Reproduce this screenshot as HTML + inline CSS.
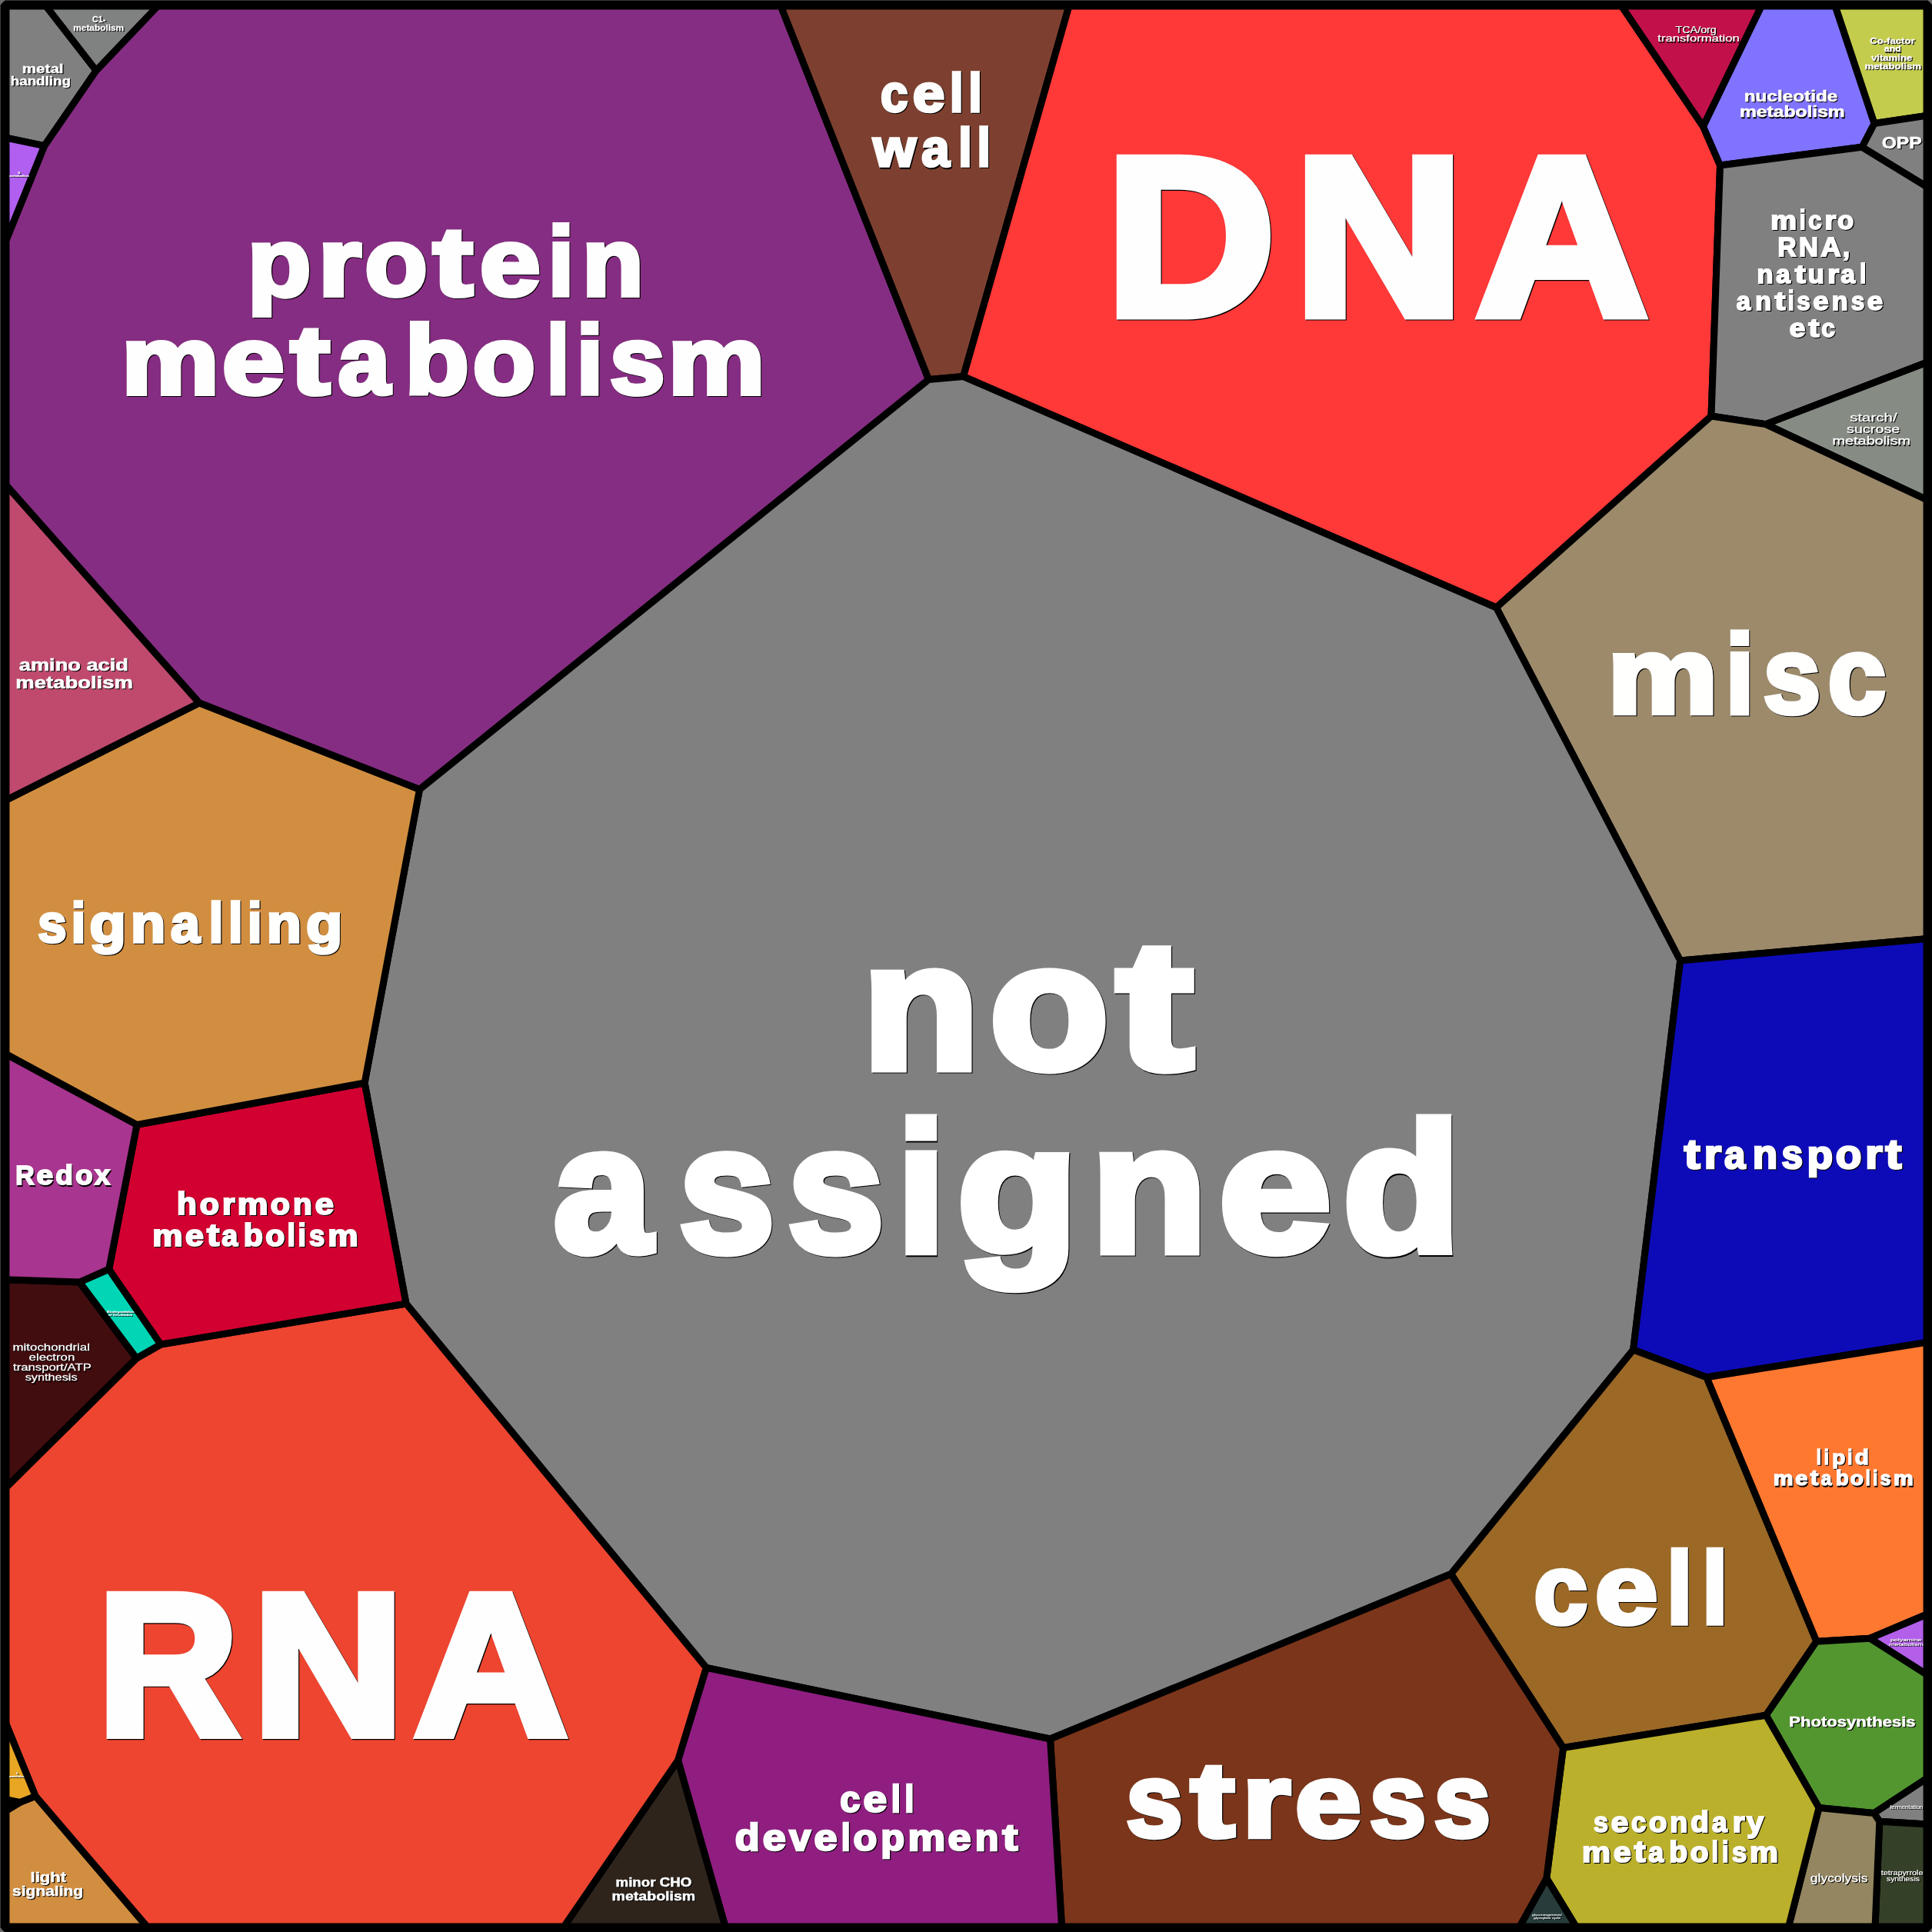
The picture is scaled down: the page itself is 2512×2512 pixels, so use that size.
<!DOCTYPE html>
<html><head><meta charset="utf-8"><title>treemap</title><style>html,body{margin:0;padding:0;background:#6c6c6c}svg{display:block}text{font-family:"Liberation Sans",sans-serif;}</style></head><body>
<svg width="2512" height="2512" viewBox="0 0 2512 2512">
<rect x="0" y="0" width="2512" height="2512" fill="#6c6c6c"/>
<g stroke="#000" stroke-width="9" stroke-linejoin="round">
<polygon fill="#808080" points="6.5,6.5 58.8,6.5 125.1,91.8 57.8,189.6 6.5,178.8"/>
<polygon fill="#808281" points="58.8,6.5 206.5,6.5 125.1,91.8"/>
<polygon fill="#b05ff0" points="6.5,178.8 57.8,189.6 6.5,316.3"/>
<polygon fill="#852d82" points="206.5,6.5 1014.7,6.5 1207.5,493.5 545.5,1026.5 259.0,914.0 6.5,629.3 6.5,316.3 57.8,189.6 125.1,91.8"/>
<polygon fill="#7d4030" points="1014.7,6.5 1390.3,6.5 1252.6,489.6 1207.5,493.5"/>
<polygon fill="#ff3838" points="1390.3,6.5 2107.5,6.5 2214.5,164.5 2236.5,215.0 2225.0,541.0 1945.5,790.0 1252.6,489.6"/>
<polygon fill="#c2114a" points="2107.5,6.5 2290.9,6.5 2214.5,164.5"/>
<polygon fill="#8073ff" points="2290.9,6.5 2385.8,6.5 2437.1,160.5 2421.1,191.3 2236.5,215.0 2214.5,164.5"/>
<polygon fill="#c4cc4d" points="2385.8,6.5 2506.5,6.5 2506.5,150.1 2437.1,160.5"/>
<polygon fill="#808080" points="2437.1,160.5 2506.5,150.1 2506.5,243.6 2421.1,191.3"/>
<polygon fill="#808080" points="2236.5,215.0 2421.1,191.3 2506.5,243.6 2506.5,470.7 2295.8,551.6 2225.0,541.0"/>
<polygon fill="#868c84" points="2295.8,551.6 2506.5,470.7 2506.5,650.3"/>
<polygon fill="#9c8a6b" points="2225.0,541.0 2295.8,551.6 2506.5,650.3 2506.5,1220.5 2184.7,1249.0 1945.5,790.0"/>
<polygon fill="#808080" points="1207.5,493.5 1252.6,489.6 1945.5,790.0 2184.7,1249.0 2123.6,1755.0 1886.6,2046.5 1365.5,2261.0 918.3,2168.4 528.0,1695.0 474.1,1408.0 545.5,1026.5"/>
<polygon fill="#0d0bb8" points="2184.7,1249.0 2506.5,1220.5 2506.5,1745.1 2218.8,1790.7 2123.6,1755.0"/>
<polygon fill="#ff7830" points="2218.8,1790.7 2506.5,1745.1 2506.5,2098.5 2431.3,2130.2 2361.8,2134.3"/>
<polygon fill="#9b6826" points="2123.6,1755.0 2218.8,1790.7 2361.8,2134.3 2296.2,2230.2 2032.5,2272.5 1886.6,2046.5"/>
<polygon fill="#b35fea" points="2431.3,2130.2 2506.5,2098.5 2506.5,2178.1"/>
<polygon fill="#539630" points="2361.8,2134.3 2431.3,2130.2 2506.5,2178.1 2506.5,2311.6 2436.6,2357.6 2365.0,2350.4 2296.2,2230.2"/>
<polygon fill="#808080" points="2436.6,2357.6 2506.5,2311.6 2506.5,2371.9 2443.8,2368.3"/>
<polygon fill="#354028" points="2443.8,2368.3 2506.5,2371.9 2506.5,2506.5 2438.0,2506.5"/>
<polygon fill="#938660" points="2365.0,2350.4 2436.6,2357.6 2443.8,2368.3 2438.0,2506.5 2325.2,2506.5"/>
<polygon fill="#bab02b" points="2032.5,2272.5 2296.2,2230.2 2365.0,2350.4 2325.2,2506.5 2050.1,2506.5 2010.8,2442.2"/>
<polygon fill="#283c3c" points="2010.8,2442.2 2050.1,2506.5 1975.0,2506.5"/>
<polygon fill="#7b351b" points="1886.6,2046.5 2032.5,2272.5 2010.8,2442.2 1975.0,2506.5 1380.6,2506.5 1365.5,2261.0"/>
<polygon fill="#8f1e80" points="1365.5,2261.0 1380.6,2506.5 943.4,2506.5 881.5,2288.7 918.3,2168.4"/>
<polygon fill="#2e241c" points="881.5,2288.7 943.4,2506.5 732.2,2506.5"/>
<polygon fill="#ed4530" points="528.0,1695.0 918.3,2168.4 881.5,2288.7 732.2,2506.5 192.3,2506.5 46.1,2335.4 6.5,2238.0 6.5,1935.3 177.5,1766.0 209.0,1748.0"/>
<polygon fill="#d18e40" points="46.1,2335.4 192.3,2506.5 6.5,2506.5 6.5,2355.2 26.0,2343.4"/>
<polygon fill="#000000" points="6.5,2339.5 26.0,2343.4 6.5,2355.2"/>
<polygon fill="#e8a623" points="6.5,2238.0 46.1,2335.4 26.0,2343.4 6.5,2339.5"/>
<polygon fill="#420d0f" points="6.5,1663.8 103.4,1667.0 177.5,1766.0 6.5,1935.3"/>
<polygon fill="#00d6b5" points="141.7,1650.2 209.0,1748.0 177.5,1766.0 103.4,1667.0"/>
<polygon fill="#d10030" points="178.0,1462.4 474.1,1408.0 528.0,1695.0 209.0,1748.0 141.7,1650.2"/>
<polygon fill="#a8358f" points="6.5,1369.8 178.0,1462.4 141.7,1650.2 103.4,1667.0 6.5,1663.8"/>
<polygon fill="#d18e40" points="6.5,1041.0 259.0,914.0 545.5,1026.5 474.1,1408.0 178.0,1462.4 6.5,1369.8"/>
<polygon fill="#bf4a6e" points="6.5,629.3 259.0,914.0 6.5,1041.0"/>
</g>
<rect x="6.5" y="6.5" width="2500" height="2500" fill="none" stroke="#000" stroke-width="11.9" stroke-linejoin="bevel"/>
<g opacity="0.999" font-weight="bold" stroke-linejoin="miter"><g fill="#000" stroke="#000"><text transform="translate(1122.89,1390.32) scale(0.9764,0.9189)" font-size="253.50" stroke-width="11.81">n</text><text transform="translate(1288.16,1390.32) scale(0.9979,0.9189)" font-size="253.50" stroke-width="11.81">o</text><text transform="translate(1453.16,1390.24) scale(1.1750,0.9333)" font-size="253.50" stroke-width="11.81">t</text><text transform="translate(721.26,1627.72) scale(0.9012,0.9189)" font-size="253.50" stroke-width="11.81">a</text><text transform="translate(884.10,1627.72) scale(0.8820,0.9189)" font-size="253.50" stroke-width="11.81">s</text><text transform="translate(1025.39,1627.72) scale(0.8872,0.9189)" font-size="253.50" stroke-width="11.81">s</text><text transform="translate(1168.12,1627.60) scale(0.8764,0.9396)" font-size="253.50" stroke-width="11.81">i</text><text transform="translate(1245.70,1627.72) scale(1.0121,0.9189)" font-size="253.50" stroke-width="11.81">g</text><text transform="translate(1420.29,1627.72) scale(0.9668,0.9189)" font-size="253.50" stroke-width="11.81">n</text><text transform="translate(1585.94,1627.72) scale(1.0368,0.9189)" font-size="253.50" stroke-width="11.81">e</text><text transform="translate(1747.31,1627.60) scale(0.9850,0.9396)" font-size="253.50" stroke-width="11.81">d</text><text transform="translate(323.19,384.78) scale(0.9991,0.9167)" font-size="134.90" stroke-width="6.47">p</text><text transform="translate(415.09,384.78) scale(1.0612,0.9167)" font-size="134.90" stroke-width="6.47">r</text><text transform="translate(475.71,384.78) scale(0.9840,0.9167)" font-size="134.90" stroke-width="6.47">o</text><text transform="translate(564.41,384.74) scale(1.1461,0.9315)" font-size="134.90" stroke-width="6.47">t</text><text transform="translate(625.10,384.78) scale(1.0487,0.9167)" font-size="134.90" stroke-width="6.47">e</text><text transform="translate(714.08,384.72) scale(0.8795,0.9379)" font-size="134.90" stroke-width="6.47">i</text><text transform="translate(758.46,384.78) scale(0.9623,0.9167)" font-size="134.90" stroke-width="6.47">n</text><text transform="translate(159.32,513.38) scale(1.0555,0.9167)" font-size="134.90" stroke-width="6.47">m</text><text transform="translate(290.05,513.38) scale(1.0749,0.9167)" font-size="134.90" stroke-width="6.47">e</text><text transform="translate(378.99,513.34) scale(1.1381,0.9315)" font-size="134.90" stroke-width="6.47">t</text><text transform="translate(440.86,513.38) scale(0.8972,0.9167)" font-size="134.90" stroke-width="6.47">a</text><text transform="translate(527.85,513.32) scale(1.0083,0.9379)" font-size="134.90" stroke-width="6.47">b</text><text transform="translate(615.81,513.38) scale(0.9853,0.9167)" font-size="134.90" stroke-width="6.47">o</text><text transform="translate(712.07,513.32) scale(0.7774,0.9379)" font-size="134.90" stroke-width="6.47">l</text><text transform="translate(750.88,513.32) scale(0.9148,0.9379)" font-size="134.90" stroke-width="6.47">i</text><text transform="translate(794.12,513.38) scale(0.9521,0.9167)" font-size="134.90" stroke-width="6.47">s</text><text transform="translate(869.86,513.38) scale(1.0482,0.9167)" font-size="134.90" stroke-width="6.47">m</text><text transform="translate(1439.60,409.78) scale(0.9728,0.9370)" font-size="312.11" stroke-width="14.44">D</text><text transform="translate(1684.72,409.78) scale(0.9712,0.9370)" font-size="312.11" stroke-width="14.44">N</text><text transform="translate(1920.96,409.78) scale(0.9847,0.9370)" font-size="312.11" stroke-width="14.44">A</text><text transform="translate(128.76,2256.08) scale(0.9015,0.9368)" font-size="279.31" stroke-width="12.97">R</text><text transform="translate(330.22,2256.08) scale(0.9692,0.9368)" font-size="279.31" stroke-width="12.97">N</text><text transform="translate(540.23,2256.08) scale(0.9830,0.9368)" font-size="279.31" stroke-width="12.97">A</text><text transform="translate(2091.39,928.10) scale(1.0499,0.9173)" font-size="153.41" stroke-width="7.30">m</text><text transform="translate(2244.86,928.02) scale(0.8612,0.9384)" font-size="153.41" stroke-width="7.30">i</text><text transform="translate(2294.00,928.10) scale(0.8708,0.9173)" font-size="153.41" stroke-width="7.30">s</text><text transform="translate(2377.90,928.10) scale(0.8795,0.9173)" font-size="153.41" stroke-width="7.30">c</text><text transform="translate(2190.78,1519.77) scale(1.0942,0.9261)" font-size="57.13" stroke-width="2.97">t</text><text transform="translate(2216.80,1519.80) scale(1.0081,0.9103)" font-size="57.13" stroke-width="2.97">r</text><text transform="translate(2243.16,1519.80) scale(0.8589,0.9103)" font-size="57.13" stroke-width="2.97">a</text><text transform="translate(2280.02,1519.80) scale(0.9260,0.9103)" font-size="57.13" stroke-width="2.97">n</text><text transform="translate(2317.71,1519.80) scale(0.8669,0.9103)" font-size="57.13" stroke-width="2.97">s</text><text transform="translate(2350.57,1519.80) scale(0.9618,0.9103)" font-size="57.13" stroke-width="2.97">p</text><text transform="translate(2387.89,1519.80) scale(0.9621,0.9103)" font-size="57.13" stroke-width="2.97">o</text><text transform="translate(2426.30,1519.80) scale(1.0081,0.9103)" font-size="57.13" stroke-width="2.97">r</text><text transform="translate(2452.73,1519.77) scale(1.0942,0.9261)" font-size="57.13" stroke-width="2.97">t</text><text transform="translate(50.50,1226.38) scale(0.8690,0.9132)" font-size="77.23" stroke-width="3.88">s</text><text transform="translate(93.82,1226.34) scale(0.8614,0.9353)" font-size="77.23" stroke-width="3.88">i</text><text transform="translate(117.65,1226.38) scale(1.0024,0.9132)" font-size="77.23" stroke-width="3.88">g</text><text transform="translate(171.06,1226.38) scale(0.9582,0.9132)" font-size="77.23" stroke-width="3.88">n</text><text transform="translate(223.07,1226.38) scale(0.8874,0.9132)" font-size="77.23" stroke-width="3.88">a</text><text transform="translate(272.91,1226.34) scale(0.8614,0.9353)" font-size="77.23" stroke-width="3.88">l</text><text transform="translate(298.03,1226.34) scale(0.8614,0.9353)" font-size="77.23" stroke-width="3.88">l</text><text transform="translate(323.14,1226.34) scale(0.8614,0.9353)" font-size="77.23" stroke-width="3.88">i</text><text transform="translate(347.96,1226.38) scale(0.9582,0.9132)" font-size="77.23" stroke-width="3.88">n</text><text transform="translate(399.11,1226.38) scale(1.0024,0.9132)" font-size="77.23" stroke-width="3.88">g</text><text transform="translate(1465.51,2388.93) scale(0.8981,0.9171)" font-size="147.06" stroke-width="7.02">s</text><text transform="translate(1549.42,2388.88) scale(1.1614,0.9318)" font-size="147.06" stroke-width="7.02">t</text><text transform="translate(1616.64,2388.93) scale(1.0902,0.9171)" font-size="147.06" stroke-width="7.02">r</text><text transform="translate(1685.07,2388.93) scale(1.0491,0.9171)" font-size="147.06" stroke-width="7.02">e</text><text transform="translate(1781.86,2388.93) scale(0.8981,0.9171)" font-size="147.06" stroke-width="7.02">s</text><text transform="translate(1865.75,2388.93) scale(0.8981,0.9171)" font-size="147.06" stroke-width="7.02">s</text><text transform="translate(1995.69,2111.87) scale(0.8908,0.9169)" font-size="140.29" stroke-width="6.71">c</text><text transform="translate(2075.11,2111.87) scale(1.0434,0.9169)" font-size="140.29" stroke-width="6.71">e</text><text transform="translate(2168.37,2111.80) scale(0.8484,0.9381)" font-size="140.29" stroke-width="6.71">l</text><text transform="translate(2214.45,2111.80) scale(0.8484,0.9381)" font-size="140.29" stroke-width="6.71">l</text><text transform="translate(1146.06,146.42) scale(0.8499,0.9130)" font-size="75.12" stroke-width="3.78">c</text><text transform="translate(1187.99,146.42) scale(0.9955,0.9130)" font-size="75.12" stroke-width="3.78">e</text><text transform="translate(1236.21,146.38) scale(0.8375,0.9351)" font-size="75.12" stroke-width="3.78">l</text><text transform="translate(1260.47,146.38) scale(0.8375,0.9351)" font-size="75.12" stroke-width="3.78">l</text><text transform="translate(1136.41,217.52) scale(0.9534,0.9130)" font-size="75.12" stroke-width="3.78">w</text><text transform="translate(1199.50,217.52) scale(0.8739,0.9130)" font-size="75.12" stroke-width="3.78">a</text><text transform="translate(1247.40,217.48) scale(0.8333,0.9351)" font-size="75.12" stroke-width="3.78">l</text><text transform="translate(1271.54,217.48) scale(0.8333,0.9351)" font-size="75.12" stroke-width="3.78">l</text><text transform="translate(2179.69,43.83) scale(1.1279,0.9635)" font-size="12.70" stroke-width="0.25" font-weight="normal">TCA/org</text><text transform="translate(2156.52,55.63) scale(1.3101,0.9635)" font-size="12.70" stroke-width="0.25" font-weight="normal">transformation</text><text transform="translate(2268.89,133.14) scale(1.1207,0.9462)" font-size="21.69" stroke-width="0.65">nucleotide</text><text transform="translate(2263.08,153.64) scale(1.1354,0.9462)" font-size="21.69" stroke-width="0.65">metabolism</text><text transform="translate(2432.35,57.88) scale(1.1103,0.9462)" font-size="11.85" stroke-width="0.36">Co-factor</text><text transform="translate(2450.94,68.58) scale(1.0445,0.9462)" font-size="11.85" stroke-width="0.36">and</text><text transform="translate(2434.05,79.98) scale(1.1135,0.9462)" font-size="11.85" stroke-width="0.36">vitamine</text><text transform="translate(2425.55,91.38) scale(1.1210,0.9462)" font-size="11.85" stroke-width="0.36">metabolism</text><text transform="translate(2447.82,194.21) scale(1.0413,0.9462)" font-size="23.70" stroke-width="0.71">OPP</text><text transform="translate(2303.46,299.22) scale(1.0259,0.9044)" font-size="37.03" stroke-width="2.07">m</text><text transform="translate(2340.90,299.19) scale(0.7640,0.9285)" font-size="37.03" stroke-width="2.07">i</text><text transform="translate(2352.37,299.22) scale(0.8392,0.9044)" font-size="37.03" stroke-width="2.07">c</text><text transform="translate(2373.61,299.22) scale(1.0264,0.9044)" font-size="37.03" stroke-width="2.07">r</text><text transform="translate(2390.48,299.22) scale(0.9236,0.9044)" font-size="37.03" stroke-width="2.07">o</text><text transform="translate(2312.68,333.99) scale(0.8960,0.9250)" font-size="37.03" stroke-width="2.07">R</text><text transform="translate(2340.10,333.99) scale(0.9346,0.9250)" font-size="37.03" stroke-width="2.07">N</text><text transform="translate(2368.68,333.99) scale(0.9757,0.9250)" font-size="37.03" stroke-width="2.07">A</text><text transform="translate(2397.16,334.02) scale(0.8841,0.9044)" font-size="37.03" stroke-width="2.07">,</text><text transform="translate(2285.65,369.22) scale(0.9277,0.9044)" font-size="37.03" stroke-width="2.07">n</text><text transform="translate(2310.51,369.22) scale(0.8986,0.9044)" font-size="37.03" stroke-width="2.07">a</text><text transform="translate(2334.97,369.20) scale(1.1282,0.9212)" font-size="37.03" stroke-width="2.07">t</text><text transform="translate(2351.95,369.22) scale(0.9277,0.9044)" font-size="37.03" stroke-width="2.07">u</text><text transform="translate(2377.45,369.22) scale(1.0395,0.9044)" font-size="37.03" stroke-width="2.07">r</text><text transform="translate(2394.60,369.22) scale(0.8986,0.9044)" font-size="37.03" stroke-width="2.07">a</text><text transform="translate(2419.36,369.19) scale(0.7737,0.9285)" font-size="37.03" stroke-width="2.07">l</text><text transform="translate(2258.98,404.22) scale(0.8939,0.9044)" font-size="37.03" stroke-width="2.07">a</text><text transform="translate(2283.46,404.22) scale(0.9229,0.9044)" font-size="37.03" stroke-width="2.07">n</text><text transform="translate(2308.57,404.20) scale(1.1224,0.9212)" font-size="37.03" stroke-width="2.07">t</text><text transform="translate(2325.83,404.19) scale(0.7697,0.9285)" font-size="37.03" stroke-width="2.07">i</text><text transform="translate(2337.63,404.22) scale(0.8370,0.9044)" font-size="37.03" stroke-width="2.07">s</text><text transform="translate(2358.50,404.22) scale(0.9903,0.9044)" font-size="37.03" stroke-width="2.07">e</text><text transform="translate(2383.01,404.22) scale(0.9229,0.9044)" font-size="37.03" stroke-width="2.07">n</text><text transform="translate(2408.06,404.22) scale(0.8370,0.9044)" font-size="37.03" stroke-width="2.07">s</text><text transform="translate(2428.92,404.22) scale(0.9903,0.9044)" font-size="37.03" stroke-width="2.07">e</text><text transform="translate(2327.88,439.02) scale(1.0017,0.9044)" font-size="37.03" stroke-width="2.07">e</text><text transform="translate(2352.53,439.00) scale(1.1353,0.9212)" font-size="37.03" stroke-width="2.07">t</text><text transform="translate(2369.36,439.02) scale(0.8552,0.9044)" font-size="37.03" stroke-width="2.07">c</text><text transform="translate(2406.35,549.40) scale(1.2806,0.9635)" font-size="15.98" stroke-width="0.32" font-weight="normal">starch/</text><text transform="translate(2402.15,564.30) scale(1.2404,0.9635)" font-size="15.98" stroke-width="0.32" font-weight="normal">sucrose</text><text transform="translate(2383.71,579.60) scale(1.2410,0.9635)" font-size="15.98" stroke-width="0.32" font-weight="normal">metabolism</text><text transform="translate(121.11,30.29) scale(0.9722,0.9462)" font-size="11.11" stroke-width="0.33">C1-</text><text transform="translate(96.43,40.79) scale(1.0673,0.9462)" font-size="11.11" stroke-width="0.33">metabolism</text><text transform="translate(29.84,95.91) scale(1.2193,0.9462)" font-size="16.93" stroke-width="0.51">metal</text><text transform="translate(14.92,111.91) scale(1.1090,0.9462)" font-size="16.93" stroke-width="0.51">handling</text><text transform="translate(24.71,226.69) scale(0.8320,0.9462)" font-size="4.55" stroke-width="0.14">N-</text><text transform="translate(13.42,231.09) scale(1.0084,0.9462)" font-size="4.55" stroke-width="0.14">metabolism</text><text transform="translate(25.96,873.31) scale(1.1321,0.9462)" font-size="24.02" stroke-width="0.72">amino acid</text><text transform="translate(21.52,896.01) scale(1.1423,0.9462)" font-size="24.02" stroke-width="0.72">metabolism</text><text transform="translate(21.42,1541.57) scale(0.8800,0.9254)" font-size="38.30" stroke-width="2.12">R</text><text transform="translate(48.66,1541.59) scale(1.0143,0.9050)" font-size="38.30" stroke-width="2.12">e</text><text transform="translate(73.36,1541.56) scale(0.9668,0.9290)" font-size="38.30" stroke-width="2.12">d</text><text transform="translate(99.30,1541.59) scale(0.9534,0.9050)" font-size="38.30" stroke-width="2.12">o</text><text transform="translate(124.22,1541.59) scale(0.9380,0.9050)" font-size="38.30" stroke-width="2.12">x</text><text transform="translate(231.18,1580.16) scale(0.9719,0.9304)" font-size="43.38" stroke-width="2.35">h</text><text transform="translate(260.83,1580.18) scale(0.9509,0.9069)" font-size="43.38" stroke-width="2.35">o</text><text transform="translate(290.09,1580.18) scale(0.9786,0.9069)" font-size="43.38" stroke-width="2.35">r</text><text transform="translate(309.88,1580.18) scale(1.0311,0.9069)" font-size="43.38" stroke-width="2.35">m</text><text transform="translate(352.86,1580.18) scale(0.9509,0.9069)" font-size="43.38" stroke-width="2.35">o</text><text transform="translate(382.15,1580.18) scale(0.9320,0.9069)" font-size="43.38" stroke-width="2.35">n</text><text transform="translate(410.97,1580.18) scale(1.0001,0.9069)" font-size="43.38" stroke-width="2.35">e</text><text transform="translate(199.31,1621.08) scale(1.0217,0.9069)" font-size="43.38" stroke-width="2.35">m</text><text transform="translate(242.06,1621.08) scale(0.9909,0.9069)" font-size="43.38" stroke-width="2.35">e</text><text transform="translate(270.08,1621.06) scale(1.1169,0.9232)" font-size="43.38" stroke-width="2.35">t</text><text transform="translate(289.40,1621.08) scale(0.8659,0.9069)" font-size="43.38" stroke-width="2.35">a</text><text transform="translate(317.85,1621.06) scale(0.9502,0.9304)" font-size="43.38" stroke-width="2.35">b</text><text transform="translate(346.42,1621.08) scale(0.9422,0.9069)" font-size="43.38" stroke-width="2.35">o</text><text transform="translate(374.64,1621.06) scale(0.8599,0.9304)" font-size="43.38" stroke-width="2.35">l</text><text transform="translate(388.72,1621.06) scale(0.8599,0.9304)" font-size="43.38" stroke-width="2.35">i</text><text transform="translate(403.20,1621.08) scale(0.8376,0.9069)" font-size="43.38" stroke-width="2.35">s</text><text transform="translate(427.37,1621.08) scale(1.0217,0.9069)" font-size="43.38" stroke-width="2.35">m</text><text transform="translate(140.22,1708.29) scale(1.1433,0.9462)" font-size="4.23" stroke-width="0.13">Biodegradation</text><text transform="translate(142.22,1712.09) scale(1.0722,0.9462)" font-size="4.23" stroke-width="0.13">of Xenobiotics</text><text transform="translate(17.62,1757.02) scale(1.2109,0.9635)" font-size="13.97" stroke-width="0.28" font-weight="normal">mitochondrial</text><text transform="translate(38.72,1770.02) scale(1.2022,0.9635)" font-size="13.97" stroke-width="0.28" font-weight="normal">electron</text><text transform="translate(18.22,1783.62) scale(1.1963,0.9635)" font-size="13.97" stroke-width="0.28" font-weight="normal">transport/ATP</text><text transform="translate(33.81,1796.62) scale(1.1682,0.9635)" font-size="13.97" stroke-width="0.28" font-weight="normal">synthesis</text><text transform="translate(40.71,2447.88) scale(1.1692,0.9462)" font-size="18.83" stroke-width="0.56">light</text><text transform="translate(17.26,2465.78) scale(1.1136,0.9462)" font-size="18.83" stroke-width="0.56">signaling</text><text transform="translate(22.19,2308.10) scale(0.7532,0.9462)" font-size="3.81" stroke-width="0.11">S-</text><text transform="translate(13.20,2312.10) scale(0.8795,0.9462)" font-size="3.81" stroke-width="0.11">assimilation</text><text transform="translate(801.70,2454.39) scale(1.0284,0.9462)" font-size="18.20" stroke-width="0.55">minor CHO</text><text transform="translate(796.77,2471.69) scale(1.0742,0.9462)" font-size="18.20" stroke-width="0.55">metabolism</text><text transform="translate(1093.50,2357.49) scale(0.8934,0.9094)" font-size="52.69" stroke-width="2.77">c</text><text transform="translate(1123.77,2357.49) scale(1.0465,0.9094)" font-size="52.69" stroke-width="2.77">e</text><text transform="translate(1159.78,2357.46) scale(0.8319,0.9324)" font-size="52.69" stroke-width="2.77">l</text><text transform="translate(1177.35,2357.46) scale(0.8319,0.9324)" font-size="52.69" stroke-width="2.77">l</text><text transform="translate(956.84,2407.26) scale(0.9907,0.9324)" font-size="52.69" stroke-width="2.77">d</text><text transform="translate(992.79,2407.29) scale(1.0269,0.9094)" font-size="52.69" stroke-width="2.77">e</text><text transform="translate(1027.31,2407.29) scale(0.9537,0.9094)" font-size="52.69" stroke-width="2.77">v</text><text transform="translate(1059.62,2407.29) scale(1.0269,0.9094)" font-size="52.69" stroke-width="2.77">e</text><text transform="translate(1094.96,2407.26) scale(0.8164,0.9324)" font-size="52.69" stroke-width="2.77">l</text><text transform="translate(1110.76,2407.29) scale(0.9568,0.9094)" font-size="52.69" stroke-width="2.77">o</text><text transform="translate(1146.48,2407.29) scale(0.9585,0.9094)" font-size="52.69" stroke-width="2.77">p</text><text transform="translate(1181.63,2407.29) scale(1.0389,0.9094)" font-size="52.69" stroke-width="2.77">m</text><text transform="translate(1233.77,2407.29) scale(1.0269,0.9094)" font-size="52.69" stroke-width="2.77">e</text><text transform="translate(1268.89,2407.29) scale(0.9570,0.9094)" font-size="52.69" stroke-width="2.77">n</text><text transform="translate(1304.66,2407.27) scale(1.1309,0.9254)" font-size="52.69" stroke-width="2.77">t</text><text transform="translate(2073.16,2383.13) scale(0.8285,0.9061)" font-size="41.26" stroke-width="2.26">s</text><text transform="translate(2095.97,2383.13) scale(0.9802,0.9061)" font-size="41.26" stroke-width="2.26">e</text><text transform="translate(2122.24,2383.13) scale(0.8368,0.9061)" font-size="41.26" stroke-width="2.26">c</text><text transform="translate(2145.09,2383.13) scale(0.9287,0.9061)" font-size="41.26" stroke-width="2.26">o</text><text transform="translate(2172.47,2383.13) scale(0.9135,0.9061)" font-size="41.26" stroke-width="2.26">n</text><text transform="translate(2199.48,2383.10) scale(0.9382,0.9299)" font-size="41.26" stroke-width="2.26">d</text><text transform="translate(2227.15,2383.13) scale(0.8535,0.9061)" font-size="41.26" stroke-width="2.26">a</text><text transform="translate(2253.95,2383.13) scale(0.9778,0.9061)" font-size="41.26" stroke-width="2.26">r</text><text transform="translate(2272.31,2383.13) scale(0.9548,0.9061)" font-size="41.26" stroke-width="2.26">y</text><text transform="translate(2058.17,2422.13) scale(1.0074,0.9061)" font-size="41.26" stroke-width="2.26">m</text><text transform="translate(2099.09,2422.13) scale(0.9922,0.9061)" font-size="41.26" stroke-width="2.26">e</text><text transform="translate(2125.88,2422.11) scale(1.0743,0.9226)" font-size="41.26" stroke-width="2.26">t</text><text transform="translate(2144.36,2422.13) scale(0.8639,0.9061)" font-size="41.26" stroke-width="2.26">a</text><text transform="translate(2171.52,2422.10) scale(0.9497,0.9299)" font-size="41.26" stroke-width="2.26">b</text><text transform="translate(2198.88,2422.13) scale(0.9401,0.9061)" font-size="41.26" stroke-width="2.26">o</text><text transform="translate(2226.76,2422.10) scale(0.7419,0.9299)" font-size="41.26" stroke-width="2.26">l</text><text transform="translate(2240.22,2422.10) scale(0.7419,0.9299)" font-size="41.26" stroke-width="2.26">i</text><text transform="translate(2253.18,2422.13) scale(0.8387,0.9061)" font-size="41.26" stroke-width="2.26">s</text><text transform="translate(2276.26,2422.13) scale(1.0074,0.9061)" font-size="41.26" stroke-width="2.26">m</text><text transform="translate(2327.47,2245.67) scale(1.1160,0.9462)" font-size="19.78" stroke-width="0.59">Photosynthesis</text><text transform="translate(2362.89,1905.46) scale(0.7514,0.9251)" font-size="29.20" stroke-width="1.71">l</text><text transform="translate(2372.78,1905.46) scale(0.7514,0.9251)" font-size="29.20" stroke-width="1.71">i</text><text transform="translate(2383.39,1905.48) scale(0.9553,0.9000)" font-size="29.20" stroke-width="1.71">p</text><text transform="translate(2403.31,1905.46) scale(0.7514,0.9251)" font-size="29.20" stroke-width="1.71">i</text><text transform="translate(2412.78,1905.46) scale(1.0124,0.9251)" font-size="29.20" stroke-width="1.71">d</text><text transform="translate(2306.91,1932.58) scale(0.9896,0.9000)" font-size="29.20" stroke-width="1.71">m</text><text transform="translate(2335.50,1932.58) scale(0.9892,0.9000)" font-size="29.20" stroke-width="1.71">e</text><text transform="translate(2354.98,1932.56) scale(1.0682,0.9174)" font-size="29.20" stroke-width="1.71">t</text><text transform="translate(2368.81,1932.58) scale(0.8354,0.9000)" font-size="29.20" stroke-width="1.71">a</text><text transform="translate(2388.09,1932.56) scale(0.9318,0.9251)" font-size="29.20" stroke-width="1.71">b</text><text transform="translate(2407.01,1932.58) scale(0.9603,0.9000)" font-size="29.20" stroke-width="1.71">o</text><text transform="translate(2426.84,1932.56) scale(0.7329,0.9251)" font-size="29.20" stroke-width="1.71">l</text><text transform="translate(2436.48,1932.56) scale(0.7329,0.9251)" font-size="29.20" stroke-width="1.71">i</text><text transform="translate(2445.95,1932.58) scale(0.8361,0.9000)" font-size="29.20" stroke-width="1.71">s</text><text transform="translate(2463.16,1932.58) scale(0.9896,0.9000)" font-size="29.20" stroke-width="1.71">m</text><text transform="translate(2459.04,2135.39) scale(1.4308,0.9635)" font-size="6.24" stroke-width="0.12" font-weight="normal">polyamine</text><text transform="translate(2457.44,2141.29) scale(1.3991,0.9635)" font-size="6.24" stroke-width="0.12" font-weight="normal">metabolism</text><text transform="translate(2458.33,2353.18) scale(1.1480,0.9635)" font-size="6.77" stroke-width="0.14" font-weight="normal">fermentation</text><text transform="translate(2355.02,2448.40) scale(1.1472,0.9635)" font-size="15.24" stroke-width="0.30" font-weight="normal">glycolysis</text><text transform="translate(2446.96,2438.67) scale(1.2461,0.9635)" font-size="8.68" stroke-width="0.17" font-weight="normal">tetrapyrrole</text><text transform="translate(2454.15,2446.87) scale(1.1888,0.9635)" font-size="8.68" stroke-width="0.17" font-weight="normal">synthesis</text><text transform="translate(1993.10,2492.41) scale(1.1852,0.9635)" font-size="4.23" stroke-width="0.08" font-weight="normal">gluconeogenesis/</text><text transform="translate(1995.20,2496.31) scale(1.1888,0.9635)" font-size="4.23" stroke-width="0.08" font-weight="normal">glyoxylate cycle</text></g>
<g fill="#fff" stroke="#fff"><text transform="translate(1121.74,1389.17) scale(0.9764,0.9189)" font-size="253.50" stroke-width="11.81">n</text><text transform="translate(1287.01,1389.17) scale(0.9979,0.9189)" font-size="253.50" stroke-width="11.81">o</text><text transform="translate(1452.01,1389.09) scale(1.1750,0.9333)" font-size="253.50" stroke-width="11.81">t</text><text transform="translate(720.11,1626.57) scale(0.9012,0.9189)" font-size="253.50" stroke-width="11.81">a</text><text transform="translate(882.95,1626.57) scale(0.8820,0.9189)" font-size="253.50" stroke-width="11.81">s</text><text transform="translate(1024.24,1626.57) scale(0.8872,0.9189)" font-size="253.50" stroke-width="11.81">s</text><text transform="translate(1166.97,1626.45) scale(0.8764,0.9396)" font-size="253.50" stroke-width="11.81">i</text><text transform="translate(1244.55,1626.57) scale(1.0121,0.9189)" font-size="253.50" stroke-width="11.81">g</text><text transform="translate(1419.14,1626.57) scale(0.9668,0.9189)" font-size="253.50" stroke-width="11.81">n</text><text transform="translate(1584.79,1626.57) scale(1.0368,0.9189)" font-size="253.50" stroke-width="11.81">e</text><text transform="translate(1746.16,1626.45) scale(0.9850,0.9396)" font-size="253.50" stroke-width="11.81">d</text><text transform="translate(322.04,383.63) scale(0.9991,0.9167)" font-size="134.90" stroke-width="6.47">p</text><text transform="translate(413.94,383.63) scale(1.0612,0.9167)" font-size="134.90" stroke-width="6.47">r</text><text transform="translate(474.56,383.63) scale(0.9840,0.9167)" font-size="134.90" stroke-width="6.47">o</text><text transform="translate(563.26,383.59) scale(1.1461,0.9315)" font-size="134.90" stroke-width="6.47">t</text><text transform="translate(623.95,383.63) scale(1.0487,0.9167)" font-size="134.90" stroke-width="6.47">e</text><text transform="translate(712.93,383.57) scale(0.8795,0.9379)" font-size="134.90" stroke-width="6.47">i</text><text transform="translate(757.31,383.63) scale(0.9623,0.9167)" font-size="134.90" stroke-width="6.47">n</text><text transform="translate(158.17,512.23) scale(1.0555,0.9167)" font-size="134.90" stroke-width="6.47">m</text><text transform="translate(288.90,512.23) scale(1.0749,0.9167)" font-size="134.90" stroke-width="6.47">e</text><text transform="translate(377.84,512.19) scale(1.1381,0.9315)" font-size="134.90" stroke-width="6.47">t</text><text transform="translate(439.71,512.23) scale(0.8972,0.9167)" font-size="134.90" stroke-width="6.47">a</text><text transform="translate(526.70,512.17) scale(1.0083,0.9379)" font-size="134.90" stroke-width="6.47">b</text><text transform="translate(614.66,512.23) scale(0.9853,0.9167)" font-size="134.90" stroke-width="6.47">o</text><text transform="translate(710.92,512.17) scale(0.7774,0.9379)" font-size="134.90" stroke-width="6.47">l</text><text transform="translate(749.73,512.17) scale(0.9148,0.9379)" font-size="134.90" stroke-width="6.47">i</text><text transform="translate(792.97,512.23) scale(0.9521,0.9167)" font-size="134.90" stroke-width="6.47">s</text><text transform="translate(868.71,512.23) scale(1.0482,0.9167)" font-size="134.90" stroke-width="6.47">m</text><text transform="translate(1438.45,408.63) scale(0.9728,0.9370)" font-size="312.11" stroke-width="14.44">D</text><text transform="translate(1683.57,408.63) scale(0.9712,0.9370)" font-size="312.11" stroke-width="14.44">N</text><text transform="translate(1919.81,408.63) scale(0.9847,0.9370)" font-size="312.11" stroke-width="14.44">A</text><text transform="translate(127.61,2254.93) scale(0.9015,0.9368)" font-size="279.31" stroke-width="12.97">R</text><text transform="translate(329.07,2254.93) scale(0.9692,0.9368)" font-size="279.31" stroke-width="12.97">N</text><text transform="translate(539.08,2254.93) scale(0.9830,0.9368)" font-size="279.31" stroke-width="12.97">A</text><text transform="translate(2090.24,926.95) scale(1.0499,0.9173)" font-size="153.41" stroke-width="7.30">m</text><text transform="translate(2243.71,926.87) scale(0.8612,0.9384)" font-size="153.41" stroke-width="7.30">i</text><text transform="translate(2292.85,926.95) scale(0.8708,0.9173)" font-size="153.41" stroke-width="7.30">s</text><text transform="translate(2376.75,926.95) scale(0.8795,0.9173)" font-size="153.41" stroke-width="7.30">c</text><text transform="translate(2189.63,1518.62) scale(1.0942,0.9261)" font-size="57.13" stroke-width="2.97">t</text><text transform="translate(2215.65,1518.65) scale(1.0081,0.9103)" font-size="57.13" stroke-width="2.97">r</text><text transform="translate(2242.01,1518.65) scale(0.8589,0.9103)" font-size="57.13" stroke-width="2.97">a</text><text transform="translate(2278.87,1518.65) scale(0.9260,0.9103)" font-size="57.13" stroke-width="2.97">n</text><text transform="translate(2316.56,1518.65) scale(0.8669,0.9103)" font-size="57.13" stroke-width="2.97">s</text><text transform="translate(2349.42,1518.65) scale(0.9618,0.9103)" font-size="57.13" stroke-width="2.97">p</text><text transform="translate(2386.74,1518.65) scale(0.9621,0.9103)" font-size="57.13" stroke-width="2.97">o</text><text transform="translate(2425.15,1518.65) scale(1.0081,0.9103)" font-size="57.13" stroke-width="2.97">r</text><text transform="translate(2451.58,1518.62) scale(1.0942,0.9261)" font-size="57.13" stroke-width="2.97">t</text><text transform="translate(49.35,1225.23) scale(0.8690,0.9132)" font-size="77.23" stroke-width="3.88">s</text><text transform="translate(92.67,1225.19) scale(0.8614,0.9353)" font-size="77.23" stroke-width="3.88">i</text><text transform="translate(116.50,1225.23) scale(1.0024,0.9132)" font-size="77.23" stroke-width="3.88">g</text><text transform="translate(169.91,1225.23) scale(0.9582,0.9132)" font-size="77.23" stroke-width="3.88">n</text><text transform="translate(221.92,1225.23) scale(0.8874,0.9132)" font-size="77.23" stroke-width="3.88">a</text><text transform="translate(271.76,1225.19) scale(0.8614,0.9353)" font-size="77.23" stroke-width="3.88">l</text><text transform="translate(296.88,1225.19) scale(0.8614,0.9353)" font-size="77.23" stroke-width="3.88">l</text><text transform="translate(321.99,1225.19) scale(0.8614,0.9353)" font-size="77.23" stroke-width="3.88">i</text><text transform="translate(346.81,1225.23) scale(0.9582,0.9132)" font-size="77.23" stroke-width="3.88">n</text><text transform="translate(397.96,1225.23) scale(1.0024,0.9132)" font-size="77.23" stroke-width="3.88">g</text><text transform="translate(1464.36,2387.78) scale(0.8981,0.9171)" font-size="147.06" stroke-width="7.02">s</text><text transform="translate(1548.27,2387.73) scale(1.1614,0.9318)" font-size="147.06" stroke-width="7.02">t</text><text transform="translate(1615.49,2387.78) scale(1.0902,0.9171)" font-size="147.06" stroke-width="7.02">r</text><text transform="translate(1683.92,2387.78) scale(1.0491,0.9171)" font-size="147.06" stroke-width="7.02">e</text><text transform="translate(1780.71,2387.78) scale(0.8981,0.9171)" font-size="147.06" stroke-width="7.02">s</text><text transform="translate(1864.60,2387.78) scale(0.8981,0.9171)" font-size="147.06" stroke-width="7.02">s</text><text transform="translate(1994.54,2110.72) scale(0.8908,0.9169)" font-size="140.29" stroke-width="6.71">c</text><text transform="translate(2073.96,2110.72) scale(1.0434,0.9169)" font-size="140.29" stroke-width="6.71">e</text><text transform="translate(2167.22,2110.65) scale(0.8484,0.9381)" font-size="140.29" stroke-width="6.71">l</text><text transform="translate(2213.30,2110.65) scale(0.8484,0.9381)" font-size="140.29" stroke-width="6.71">l</text><text transform="translate(1144.91,145.27) scale(0.8499,0.9130)" font-size="75.12" stroke-width="3.78">c</text><text transform="translate(1186.84,145.27) scale(0.9955,0.9130)" font-size="75.12" stroke-width="3.78">e</text><text transform="translate(1235.06,145.23) scale(0.8375,0.9351)" font-size="75.12" stroke-width="3.78">l</text><text transform="translate(1259.32,145.23) scale(0.8375,0.9351)" font-size="75.12" stroke-width="3.78">l</text><text transform="translate(1135.26,216.37) scale(0.9534,0.9130)" font-size="75.12" stroke-width="3.78">w</text><text transform="translate(1198.35,216.37) scale(0.8739,0.9130)" font-size="75.12" stroke-width="3.78">a</text><text transform="translate(1246.25,216.33) scale(0.8333,0.9351)" font-size="75.12" stroke-width="3.78">l</text><text transform="translate(1270.39,216.33) scale(0.8333,0.9351)" font-size="75.12" stroke-width="3.78">l</text><text transform="translate(2178.54,42.68) scale(1.1279,0.9635)" font-size="12.70" stroke-width="0.25" font-weight="normal">TCA/org</text><text transform="translate(2155.37,54.48) scale(1.3101,0.9635)" font-size="12.70" stroke-width="0.25" font-weight="normal">transformation</text><text transform="translate(2267.74,131.99) scale(1.1207,0.9462)" font-size="21.69" stroke-width="0.65">nucleotide</text><text transform="translate(2261.93,152.49) scale(1.1354,0.9462)" font-size="21.69" stroke-width="0.65">metabolism</text><text transform="translate(2431.20,56.73) scale(1.1103,0.9462)" font-size="11.85" stroke-width="0.36">Co-factor</text><text transform="translate(2449.79,67.43) scale(1.0445,0.9462)" font-size="11.85" stroke-width="0.36">and</text><text transform="translate(2432.90,78.83) scale(1.1135,0.9462)" font-size="11.85" stroke-width="0.36">vitamine</text><text transform="translate(2424.40,90.23) scale(1.1210,0.9462)" font-size="11.85" stroke-width="0.36">metabolism</text><text transform="translate(2446.67,193.06) scale(1.0413,0.9462)" font-size="23.70" stroke-width="0.71">OPP</text><text transform="translate(2302.31,298.07) scale(1.0259,0.9044)" font-size="37.03" stroke-width="2.07">m</text><text transform="translate(2339.75,298.04) scale(0.7640,0.9285)" font-size="37.03" stroke-width="2.07">i</text><text transform="translate(2351.22,298.07) scale(0.8392,0.9044)" font-size="37.03" stroke-width="2.07">c</text><text transform="translate(2372.46,298.07) scale(1.0264,0.9044)" font-size="37.03" stroke-width="2.07">r</text><text transform="translate(2389.33,298.07) scale(0.9236,0.9044)" font-size="37.03" stroke-width="2.07">o</text><text transform="translate(2311.53,332.84) scale(0.8960,0.9250)" font-size="37.03" stroke-width="2.07">R</text><text transform="translate(2338.95,332.84) scale(0.9346,0.9250)" font-size="37.03" stroke-width="2.07">N</text><text transform="translate(2367.53,332.84) scale(0.9757,0.9250)" font-size="37.03" stroke-width="2.07">A</text><text transform="translate(2396.01,332.87) scale(0.8841,0.9044)" font-size="37.03" stroke-width="2.07">,</text><text transform="translate(2284.50,368.07) scale(0.9277,0.9044)" font-size="37.03" stroke-width="2.07">n</text><text transform="translate(2309.36,368.07) scale(0.8986,0.9044)" font-size="37.03" stroke-width="2.07">a</text><text transform="translate(2333.82,368.05) scale(1.1282,0.9212)" font-size="37.03" stroke-width="2.07">t</text><text transform="translate(2350.80,368.07) scale(0.9277,0.9044)" font-size="37.03" stroke-width="2.07">u</text><text transform="translate(2376.30,368.07) scale(1.0395,0.9044)" font-size="37.03" stroke-width="2.07">r</text><text transform="translate(2393.45,368.07) scale(0.8986,0.9044)" font-size="37.03" stroke-width="2.07">a</text><text transform="translate(2418.21,368.04) scale(0.7737,0.9285)" font-size="37.03" stroke-width="2.07">l</text><text transform="translate(2257.83,403.07) scale(0.8939,0.9044)" font-size="37.03" stroke-width="2.07">a</text><text transform="translate(2282.31,403.07) scale(0.9229,0.9044)" font-size="37.03" stroke-width="2.07">n</text><text transform="translate(2307.42,403.05) scale(1.1224,0.9212)" font-size="37.03" stroke-width="2.07">t</text><text transform="translate(2324.68,403.04) scale(0.7697,0.9285)" font-size="37.03" stroke-width="2.07">i</text><text transform="translate(2336.48,403.07) scale(0.8370,0.9044)" font-size="37.03" stroke-width="2.07">s</text><text transform="translate(2357.35,403.07) scale(0.9903,0.9044)" font-size="37.03" stroke-width="2.07">e</text><text transform="translate(2381.86,403.07) scale(0.9229,0.9044)" font-size="37.03" stroke-width="2.07">n</text><text transform="translate(2406.91,403.07) scale(0.8370,0.9044)" font-size="37.03" stroke-width="2.07">s</text><text transform="translate(2427.77,403.07) scale(0.9903,0.9044)" font-size="37.03" stroke-width="2.07">e</text><text transform="translate(2326.73,437.87) scale(1.0017,0.9044)" font-size="37.03" stroke-width="2.07">e</text><text transform="translate(2351.38,437.85) scale(1.1353,0.9212)" font-size="37.03" stroke-width="2.07">t</text><text transform="translate(2368.21,437.87) scale(0.8552,0.9044)" font-size="37.03" stroke-width="2.07">c</text><text transform="translate(2405.20,548.25) scale(1.2806,0.9635)" font-size="15.98" stroke-width="0.32" font-weight="normal">starch/</text><text transform="translate(2401.00,563.15) scale(1.2404,0.9635)" font-size="15.98" stroke-width="0.32" font-weight="normal">sucrose</text><text transform="translate(2382.56,578.45) scale(1.2410,0.9635)" font-size="15.98" stroke-width="0.32" font-weight="normal">metabolism</text><text transform="translate(119.96,29.14) scale(0.9722,0.9462)" font-size="11.11" stroke-width="0.33">C1-</text><text transform="translate(95.28,39.64) scale(1.0673,0.9462)" font-size="11.11" stroke-width="0.33">metabolism</text><text transform="translate(28.69,94.76) scale(1.2193,0.9462)" font-size="16.93" stroke-width="0.51">metal</text><text transform="translate(13.77,110.76) scale(1.1090,0.9462)" font-size="16.93" stroke-width="0.51">handling</text><text transform="translate(23.56,225.54) scale(0.8320,0.9462)" font-size="4.55" stroke-width="0.14">N-</text><text transform="translate(12.27,229.94) scale(1.0084,0.9462)" font-size="4.55" stroke-width="0.14">metabolism</text><text transform="translate(24.81,872.16) scale(1.1321,0.9462)" font-size="24.02" stroke-width="0.72">amino acid</text><text transform="translate(20.37,894.86) scale(1.1423,0.9462)" font-size="24.02" stroke-width="0.72">metabolism</text><text transform="translate(20.27,1540.42) scale(0.8800,0.9254)" font-size="38.30" stroke-width="2.12">R</text><text transform="translate(47.51,1540.44) scale(1.0143,0.9050)" font-size="38.30" stroke-width="2.12">e</text><text transform="translate(72.21,1540.41) scale(0.9668,0.9290)" font-size="38.30" stroke-width="2.12">d</text><text transform="translate(98.15,1540.44) scale(0.9534,0.9050)" font-size="38.30" stroke-width="2.12">o</text><text transform="translate(123.07,1540.44) scale(0.9380,0.9050)" font-size="38.30" stroke-width="2.12">x</text><text transform="translate(230.03,1579.01) scale(0.9719,0.9304)" font-size="43.38" stroke-width="2.35">h</text><text transform="translate(259.68,1579.03) scale(0.9509,0.9069)" font-size="43.38" stroke-width="2.35">o</text><text transform="translate(288.94,1579.03) scale(0.9786,0.9069)" font-size="43.38" stroke-width="2.35">r</text><text transform="translate(308.73,1579.03) scale(1.0311,0.9069)" font-size="43.38" stroke-width="2.35">m</text><text transform="translate(351.71,1579.03) scale(0.9509,0.9069)" font-size="43.38" stroke-width="2.35">o</text><text transform="translate(381.00,1579.03) scale(0.9320,0.9069)" font-size="43.38" stroke-width="2.35">n</text><text transform="translate(409.82,1579.03) scale(1.0001,0.9069)" font-size="43.38" stroke-width="2.35">e</text><text transform="translate(198.16,1619.93) scale(1.0217,0.9069)" font-size="43.38" stroke-width="2.35">m</text><text transform="translate(240.91,1619.93) scale(0.9909,0.9069)" font-size="43.38" stroke-width="2.35">e</text><text transform="translate(268.93,1619.91) scale(1.1169,0.9232)" font-size="43.38" stroke-width="2.35">t</text><text transform="translate(288.25,1619.93) scale(0.8659,0.9069)" font-size="43.38" stroke-width="2.35">a</text><text transform="translate(316.70,1619.91) scale(0.9502,0.9304)" font-size="43.38" stroke-width="2.35">b</text><text transform="translate(345.27,1619.93) scale(0.9422,0.9069)" font-size="43.38" stroke-width="2.35">o</text><text transform="translate(373.49,1619.91) scale(0.8599,0.9304)" font-size="43.38" stroke-width="2.35">l</text><text transform="translate(387.57,1619.91) scale(0.8599,0.9304)" font-size="43.38" stroke-width="2.35">i</text><text transform="translate(402.05,1619.93) scale(0.8376,0.9069)" font-size="43.38" stroke-width="2.35">s</text><text transform="translate(426.22,1619.93) scale(1.0217,0.9069)" font-size="43.38" stroke-width="2.35">m</text><text transform="translate(139.07,1707.14) scale(1.1433,0.9462)" font-size="4.23" stroke-width="0.13">Biodegradation</text><text transform="translate(141.07,1710.94) scale(1.0722,0.9462)" font-size="4.23" stroke-width="0.13">of Xenobiotics</text><text transform="translate(16.47,1755.87) scale(1.2109,0.9635)" font-size="13.97" stroke-width="0.28" font-weight="normal">mitochondrial</text><text transform="translate(37.57,1768.87) scale(1.2022,0.9635)" font-size="13.97" stroke-width="0.28" font-weight="normal">electron</text><text transform="translate(17.07,1782.47) scale(1.1963,0.9635)" font-size="13.97" stroke-width="0.28" font-weight="normal">transport/ATP</text><text transform="translate(32.66,1795.47) scale(1.1682,0.9635)" font-size="13.97" stroke-width="0.28" font-weight="normal">synthesis</text><text transform="translate(39.56,2446.73) scale(1.1692,0.9462)" font-size="18.83" stroke-width="0.56">light</text><text transform="translate(16.11,2464.63) scale(1.1136,0.9462)" font-size="18.83" stroke-width="0.56">signaling</text><text transform="translate(21.04,2306.95) scale(0.7532,0.9462)" font-size="3.81" stroke-width="0.11">S-</text><text transform="translate(12.05,2310.95) scale(0.8795,0.9462)" font-size="3.81" stroke-width="0.11">assimilation</text><text transform="translate(800.55,2453.24) scale(1.0284,0.9462)" font-size="18.20" stroke-width="0.55">minor CHO</text><text transform="translate(795.62,2470.54) scale(1.0742,0.9462)" font-size="18.20" stroke-width="0.55">metabolism</text><text transform="translate(1092.35,2356.34) scale(0.8934,0.9094)" font-size="52.69" stroke-width="2.77">c</text><text transform="translate(1122.62,2356.34) scale(1.0465,0.9094)" font-size="52.69" stroke-width="2.77">e</text><text transform="translate(1158.63,2356.31) scale(0.8319,0.9324)" font-size="52.69" stroke-width="2.77">l</text><text transform="translate(1176.20,2356.31) scale(0.8319,0.9324)" font-size="52.69" stroke-width="2.77">l</text><text transform="translate(955.69,2406.11) scale(0.9907,0.9324)" font-size="52.69" stroke-width="2.77">d</text><text transform="translate(991.64,2406.14) scale(1.0269,0.9094)" font-size="52.69" stroke-width="2.77">e</text><text transform="translate(1026.16,2406.14) scale(0.9537,0.9094)" font-size="52.69" stroke-width="2.77">v</text><text transform="translate(1058.47,2406.14) scale(1.0269,0.9094)" font-size="52.69" stroke-width="2.77">e</text><text transform="translate(1093.81,2406.11) scale(0.8164,0.9324)" font-size="52.69" stroke-width="2.77">l</text><text transform="translate(1109.61,2406.14) scale(0.9568,0.9094)" font-size="52.69" stroke-width="2.77">o</text><text transform="translate(1145.33,2406.14) scale(0.9585,0.9094)" font-size="52.69" stroke-width="2.77">p</text><text transform="translate(1180.48,2406.14) scale(1.0389,0.9094)" font-size="52.69" stroke-width="2.77">m</text><text transform="translate(1232.62,2406.14) scale(1.0269,0.9094)" font-size="52.69" stroke-width="2.77">e</text><text transform="translate(1267.74,2406.14) scale(0.9570,0.9094)" font-size="52.69" stroke-width="2.77">n</text><text transform="translate(1303.51,2406.12) scale(1.1309,0.9254)" font-size="52.69" stroke-width="2.77">t</text><text transform="translate(2072.01,2381.98) scale(0.8285,0.9061)" font-size="41.26" stroke-width="2.26">s</text><text transform="translate(2094.82,2381.98) scale(0.9802,0.9061)" font-size="41.26" stroke-width="2.26">e</text><text transform="translate(2121.09,2381.98) scale(0.8368,0.9061)" font-size="41.26" stroke-width="2.26">c</text><text transform="translate(2143.94,2381.98) scale(0.9287,0.9061)" font-size="41.26" stroke-width="2.26">o</text><text transform="translate(2171.32,2381.98) scale(0.9135,0.9061)" font-size="41.26" stroke-width="2.26">n</text><text transform="translate(2198.33,2381.95) scale(0.9382,0.9299)" font-size="41.26" stroke-width="2.26">d</text><text transform="translate(2226.00,2381.98) scale(0.8535,0.9061)" font-size="41.26" stroke-width="2.26">a</text><text transform="translate(2252.80,2381.98) scale(0.9778,0.9061)" font-size="41.26" stroke-width="2.26">r</text><text transform="translate(2271.16,2381.98) scale(0.9548,0.9061)" font-size="41.26" stroke-width="2.26">y</text><text transform="translate(2057.02,2420.98) scale(1.0074,0.9061)" font-size="41.26" stroke-width="2.26">m</text><text transform="translate(2097.94,2420.98) scale(0.9922,0.9061)" font-size="41.26" stroke-width="2.26">e</text><text transform="translate(2124.73,2420.96) scale(1.0743,0.9226)" font-size="41.26" stroke-width="2.26">t</text><text transform="translate(2143.21,2420.98) scale(0.8639,0.9061)" font-size="41.26" stroke-width="2.26">a</text><text transform="translate(2170.37,2420.95) scale(0.9497,0.9299)" font-size="41.26" stroke-width="2.26">b</text><text transform="translate(2197.73,2420.98) scale(0.9401,0.9061)" font-size="41.26" stroke-width="2.26">o</text><text transform="translate(2225.61,2420.95) scale(0.7419,0.9299)" font-size="41.26" stroke-width="2.26">l</text><text transform="translate(2239.07,2420.95) scale(0.7419,0.9299)" font-size="41.26" stroke-width="2.26">i</text><text transform="translate(2252.03,2420.98) scale(0.8387,0.9061)" font-size="41.26" stroke-width="2.26">s</text><text transform="translate(2275.11,2420.98) scale(1.0074,0.9061)" font-size="41.26" stroke-width="2.26">m</text><text transform="translate(2326.32,2244.52) scale(1.1160,0.9462)" font-size="19.78" stroke-width="0.59">Photosynthesis</text><text transform="translate(2361.74,1904.31) scale(0.7514,0.9251)" font-size="29.20" stroke-width="1.71">l</text><text transform="translate(2371.63,1904.31) scale(0.7514,0.9251)" font-size="29.20" stroke-width="1.71">i</text><text transform="translate(2382.24,1904.33) scale(0.9553,0.9000)" font-size="29.20" stroke-width="1.71">p</text><text transform="translate(2402.16,1904.31) scale(0.7514,0.9251)" font-size="29.20" stroke-width="1.71">i</text><text transform="translate(2411.63,1904.31) scale(1.0124,0.9251)" font-size="29.20" stroke-width="1.71">d</text><text transform="translate(2305.76,1931.43) scale(0.9896,0.9000)" font-size="29.20" stroke-width="1.71">m</text><text transform="translate(2334.35,1931.43) scale(0.9892,0.9000)" font-size="29.20" stroke-width="1.71">e</text><text transform="translate(2353.83,1931.41) scale(1.0682,0.9174)" font-size="29.20" stroke-width="1.71">t</text><text transform="translate(2367.66,1931.43) scale(0.8354,0.9000)" font-size="29.20" stroke-width="1.71">a</text><text transform="translate(2386.94,1931.41) scale(0.9318,0.9251)" font-size="29.20" stroke-width="1.71">b</text><text transform="translate(2405.86,1931.43) scale(0.9603,0.9000)" font-size="29.20" stroke-width="1.71">o</text><text transform="translate(2425.69,1931.41) scale(0.7329,0.9251)" font-size="29.20" stroke-width="1.71">l</text><text transform="translate(2435.33,1931.41) scale(0.7329,0.9251)" font-size="29.20" stroke-width="1.71">i</text><text transform="translate(2444.80,1931.43) scale(0.8361,0.9000)" font-size="29.20" stroke-width="1.71">s</text><text transform="translate(2462.01,1931.43) scale(0.9896,0.9000)" font-size="29.20" stroke-width="1.71">m</text><text transform="translate(2457.89,2134.24) scale(1.4308,0.9635)" font-size="6.24" stroke-width="0.12" font-weight="normal">polyamine</text><text transform="translate(2456.29,2140.14) scale(1.3991,0.9635)" font-size="6.24" stroke-width="0.12" font-weight="normal">metabolism</text><text transform="translate(2457.18,2352.03) scale(1.1480,0.9635)" font-size="6.77" stroke-width="0.14" font-weight="normal">fermentation</text><text transform="translate(2353.87,2447.25) scale(1.1472,0.9635)" font-size="15.24" stroke-width="0.30" font-weight="normal">glycolysis</text><text transform="translate(2445.81,2437.52) scale(1.2461,0.9635)" font-size="8.68" stroke-width="0.17" font-weight="normal">tetrapyrrole</text><text transform="translate(2453.00,2445.72) scale(1.1888,0.9635)" font-size="8.68" stroke-width="0.17" font-weight="normal">synthesis</text><text transform="translate(1991.95,2491.26) scale(1.1852,0.9635)" font-size="4.23" stroke-width="0.08" font-weight="normal">gluconeogenesis/</text><text transform="translate(1994.05,2495.16) scale(1.1888,0.9635)" font-size="4.23" stroke-width="0.08" font-weight="normal">glyoxylate cycle</text></g></g>
</svg></body></html>
